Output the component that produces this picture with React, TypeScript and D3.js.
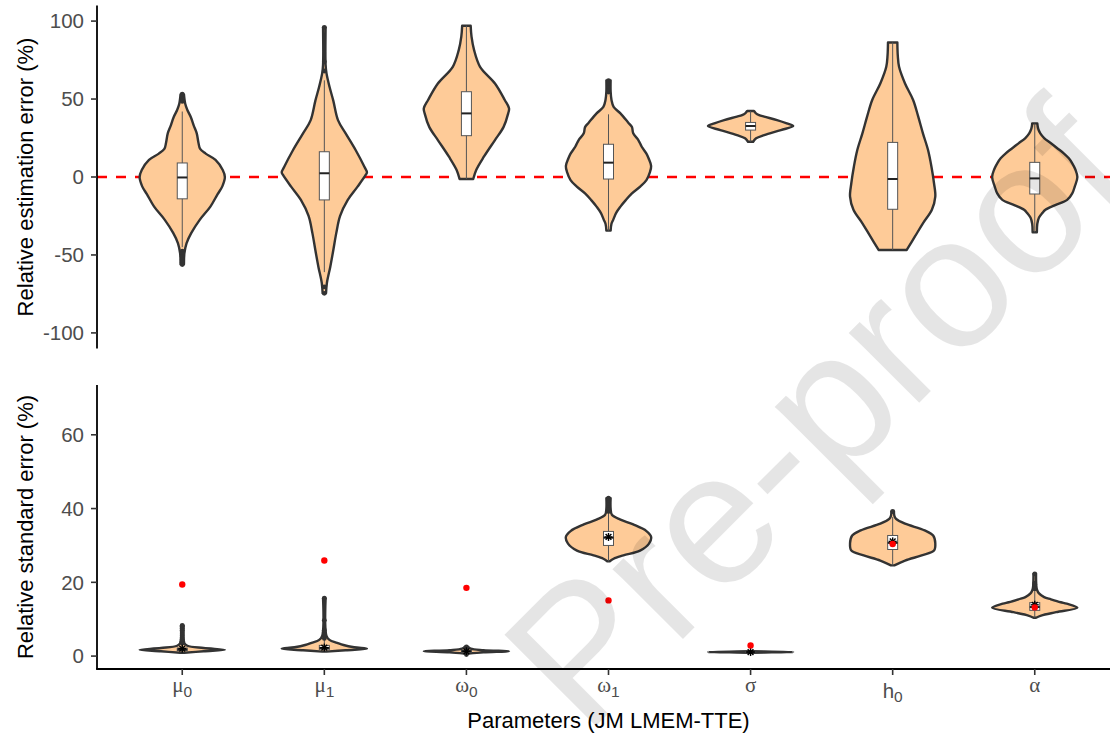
import React from "react";
import * as d3 from "d3";

// ---------- data ----------
const params = ["mu0", "mu1", "omega0", "omega1", "sigma", "h0", "alpha"];
const tickBase = ["μ", "μ", "ω", "ω", "σ", "h", "α"];
const tickSub = ["0", "1", "0", "1", "", "0", ""];

const topTicks = [-100, -50, 0, 50, 100];
const bottomTicks = [0, 20, 40, 60];

// violin profiles: [value, relative half-width] (relative estimation error)
const reMu0: [number, number][] = [[-56, .04], [-49, .05], [-42.5, .1], [-36, .21], [-27.5, .41], [-19, .66], [-11, .83], [-6, .94], [0, 1], [4.5, .95], [11, .78], [15, .55], [18, .42], [22, .38], [28, .34], [33, .27], [38.5, .2], [43, .12], [47, .07], [53, .04]];
const reMu1: [number, number][] = [[-74.6, .04], [-68, .06], [-57.5, .14], [-47, .21], [-36, .28], [-25, .37], [-14.7, .55], [-6.2, .78], [1.3, .97], [3, 1], [6.6, .94], [17, .74], [28, .5], [36.5, .32], [49, .21], [58, .12], [66.6, .05], [72, .03], [96, .03]];
const reOmega0: [number, number][] = [[-1.3, .16], [4.5, .23], [13, .41], [23.7, .67], [32, .87], [40.8, .98], [44, 1], [49.4, .9], [60, .67], [70.7, .32], [81.4, .18], [90, .12], [97, .1]];
const reOmega1: [number, number][] = [[-34.4, .05], [-30, .07], [-27.5, .11], [-23, .18], [-19, .28], [-15, .4], [-10.5, .55], [-6, .75], [-2, .89], [3, .97], [7, 1], [12, .94], [15, .89], [19.4, .78], [23.7, .7], [28, .58], [32, .55], [35, .46], [40.8, .28], [45, .12], [49.4, .07], [55, .05], [62, .05]];
const reSigma: [number, number][] = [[22.6, .06], [24.8, .13], [26.9, .32], [30.1, .71], [32.7, 1], [34.4, .85], [36.5, .62], [38.7, .32], [39.7, .2], [41, .12], [42.3, .08]];
const reH0: [number, number][] = [[-46.8, .33], [-38.3, .52], [-29.7, .71], [-21, .92], [-12.6, 1], [-4, .97], [6.6, .91], [17.3, .83], [28, .71], [38.7, .6], [49.4, .48], [60, .29], [70.7, .15], [78, .12], [86.3, .11]];
const reAlpha: [number, number][] = [[-35.4, .05], [-30, .06], [-26, .1], [-23, .18], [-21, .25], [-18, .48], [-14.7, .76], [-10.5, .88], [-6, .94], [0, 1], [5, .95], [8.8, .88], [12, .8], [15.2, .68], [18, .55], [21.6, .38], [25, .22], [28, .13], [31, .08], [34.4, .06]];

// box stats: [whiskerLow, q1, median, q3, whiskerHigh]
const reBoxes: number[][] = [
  [-45, -14, -0.3, 9, 42],
  [-61, -14.7, 2.4, 16.2, 62],
  [-1.3, 26.5, 40.8, 54.7, 97],
  [-34.4, -1.3, 9.2, 21, 40.2],
  [22.6, 30.1, 32.7, 35, 42.3],
  [-46.8, -20.7, -1.3, 22.2, 86.3],
  [-35.4, -10.9, -0.9, 9.4, 34.4],
];
const reOutliers: number[][] = [
  [48.5, 50, 51, 52, 53.2, -47.5, -49, -51, -53, -55, -56.2],
  [96, 74, 68, -70.5, -74.6],
  [],
  [54.5, 56, 58, 60, 61.8],
  [],
  [],
  [],
];

// relative standard error
const rseMu0: [number, number][] = [[0.9, .05], [1.3, .5], [1.7, 1], [2.2, .5], [2.8, .12], [3.5, .05], [8.3, .03]];
const rseMu1: [number, number][] = [[1.2, .05], [1.6, .5], [2.0, 1], [2.4, .7], [3.0, .45], [3.6, .3], [4.4, .12], [5.5, .05], [15.7, .03]];
const rseOmega0: [number, number][] = [[0.7, .05], [1.0, .4], [1.3, 1], [1.6, .4], [2.0, .1], [2.5, .04]];
const rseOmega1: [number, number][] = [[25.7, .03], [26.4, .12], [27.3, .35], [28.6, .74], [30.5, .95], [32.3, 1], [33.9, .89], [35.7, .58], [37, .28], [38.3, .08], [40, .05], [42.8, .05]];
const rseSigma: [number, number][] = [[0.9, .05], [1.0, .5], [1.1, 1], [1.2, .5], [1.35, .05]];
const rseH0: [number, number][] = [[24.6, .04], [25.9, .29], [27.3, .68], [28.6, .97], [30.6, 1], [32.7, .95], [34.1, .75], [35.9, .29], [37.2, .08], [38, .04], [39.2, .03]];
const rseAlpha: [number, number][] = [[10.4, .03], [11, .15], [11.9, .5], [13.1, 1], [14.2, .75], [14.6, .61], [15.4, .38], [16, .22], [17, .1], [17.8, .06], [18.7, .04], [22.3, .03]];

const rseBoxes: number[][] = [
  [0.9, 1.5, 1.8, 2.2, 3.2],
  [1.2, 1.7, 2.2, 2.9, 4.5],
  [0.7, 1.1, 1.3, 1.5, 2.0],
  [25.7, 30, 32.1, 33.8, 38.6],
  [0.9, 1.0, 1.1, 1.2, 1.35],
  [24.6, 28.9, 30.7, 32.7, 37.7],
  [10.4, 12.4, 13.3, 14.5, 17.6],
];
const rseOutliers: number[][] = [
  [3.5, 4, 4.5, 5, 5.5, 6, 6.5, 7, 7.5, 8, 8.3],
  [4.8, 5.5, 6.3, 7, 9.7, 15.7],
  [0.4, 2.2, 2.5],
  [39.2, 40, 40.8, 41.5, 42.2, 42.8],
  [],
  [39.2],
  [18.2, 18.8, 19.4, 19.8, 22.3],
];
const rseMean = [2.0, 2.3, 1.3, 32.3, 1.1, 31.1, 13.9];
const rseRed = [19.4, 25.9, 18.5, 15.1, 2.9, 30.4, 13.2];

const reProfiles = [reMu0, reMu1, reOmega0, reOmega1, reSigma, reH0, reAlpha];
const rseProfiles = [rseMu0, rseMu1, rseOmega0, rseOmega1, rseSigma, rseH0, rseAlpha];

// ---------- layout ----------
const W = 1110, H = 737;
const x = d3.scalePoint<string>().domain(params).range([97, 1120]).padding(0.6);
const step = x.step();
const halfW = step * 0.3;
const boxHalf = 5;
const yTop = d3.scaleLinear().domain([-110, 110]).range([348.5, 5.5]);
const yBot = d3.scaleLinear().domain([-3.5, 73.5]).range([669, 385]);

const FONT = "'Liberation Sans', Arial, sans-serif";
const FILL = "#FECB98";
const STROKE = "#333333";

function violinPath(profile: [number, number][], cx: number, y: d3.ScaleLinear<number, number>) {
  const area = d3.area<[number, number]>()
    .x0(d => cx - d[1] * halfW)
    .x1(d => cx + d[1] * halfW)
    .y(d => y(d[0]))
    .curve(d3.curveCatmullRom.alpha(0.5));
  return area(profile) || "";
}

function Asterisk({ cx, cy }: { cx: number; cy: number }) {
  const r = 4;
  const d = r * 0.72;
  return (
    <g stroke="#000" strokeWidth={1.4}>
      <line x1={cx - r} y1={cy} x2={cx + r} y2={cy} />
      <line x1={cx} y1={cy - r} x2={cx} y2={cy + r} />
      <line x1={cx - d} y1={cy - d} x2={cx + d} y2={cy + d} />
      <line x1={cx - d} y1={cy + d} x2={cx + d} y2={cy - d} />
    </g>
  );
}

function Panel({ profiles, boxes, outliers, y }: { profiles: [number, number][][]; boxes: number[][]; outliers: number[][]; y: d3.ScaleLinear<number, number> }) {
  return (
    <g>
      {params.map((p, i) => {
        const cx = x(p)!;
        const [wl, q1, med, q3, wh] = boxes[i];
        return (
          <g key={p}>
            <path d={violinPath(profiles[i], cx, y)} fill={FILL} stroke={STROKE} strokeWidth={2.4} strokeLinejoin="round" />
            <line x1={cx} x2={cx} y1={y(wl)} y2={y(wh)} stroke="#555" strokeWidth={1} />
            <rect x={cx - boxHalf} width={boxHalf * 2} y={y(q3)} height={Math.max(0.5, y(q1) - y(q3))} fill="#fff" stroke="#555" strokeWidth={1} />
            <line x1={cx - boxHalf} x2={cx + boxHalf} y1={y(med)} y2={y(med)} stroke="#222" strokeWidth={2} />
            {outliers[i].map((v, j) => (
              <circle key={j} cx={cx} cy={y(v)} r={2.4} fill="#333" />
            ))}
          </g>
        );
      })}
    </g>
  );
}

export default function App() {
  return (
    <svg width={W} height={H} style={{ position: "absolute", left: 0, top: 0, background: "#fff" }} fontFamily={FONT}>
      <rect width={W} height={H} fill="#fff" />
      {/* top panel */}
      <line x1={97} x2={1110} y1={yTop(0)} y2={yTop(0)} stroke="#FF0000" strokeWidth={2.4} strokeDasharray="10,9" />
      <Panel profiles={reProfiles} boxes={reBoxes} outliers={reOutliers} y={yTop} />
      <line x1={97} x2={97} y1={yTop.range()[1]} y2={yTop.range()[0]} stroke="#000" strokeWidth={1.8} />
      {topTicks.map(t => (
        <g key={t}>
          <line x1={91} x2={97} y1={yTop(t)} y2={yTop(t)} stroke="#333" strokeWidth={1.6} />
          <text x={84} y={yTop(t)} dy="0.36em" textAnchor="end" fontSize={20.5} fill="#4D4D4D">{t}</text>
        </g>
      ))}
      <text transform={`translate(32.5,${(yTop.range()[0] + yTop.range()[1]) / 2}) rotate(-90)`} textAnchor="middle" fontSize={22} fill="#000">Relative estimation error (%)</text>

      {/* bottom panel */}
      <Panel profiles={rseProfiles} boxes={rseBoxes} outliers={rseOutliers} y={yBot} />
      {params.map((p, i) => (
        <g key={p}>
          <Asterisk cx={x(p)!} cy={yBot(rseMean[i])} />
          <circle cx={x(p)!} cy={yBot(rseRed[i])} r={3.2} fill="#FF0000" />
        </g>
      ))}
      <line x1={97} x2={97} y1={385} y2={669} stroke="#000" strokeWidth={1.8} />
      <line x1={96.1} x2={1110} y1={669} y2={669} stroke="#000" strokeWidth={1.8} />
      {bottomTicks.map(t => (
        <g key={t}>
          <line x1={91} x2={97} y1={yBot(t)} y2={yBot(t)} stroke="#333" strokeWidth={1.6} />
          <text x={84} y={yBot(t)} dy="0.36em" textAnchor="end" fontSize={20.5} fill="#4D4D4D">{t}</text>
        </g>
      ))}
      {params.map((p, i) => {
        const cx = x(p)!;
        const isLatin = tickBase[i] === "h";
        const baseY = isLatin ? 697.5 : 692;
        return (
          <g key={p}>
            <line x1={cx} x2={cx} y1={669} y2={675} stroke="#333" strokeWidth={1.6} />
            <text x={cx} y={baseY} textAnchor="middle" fill="#4D4D4D">
              <tspan fontSize={isLatin ? 20.5 : 21} fontFamily={isLatin ? FONT : "'Liberation Serif', 'Times New Roman', serif"}>{tickBase[i]}</tspan>
              {tickSub[i] && <tspan fontSize={15.5} dy={4.5}>{tickSub[i]}</tspan>}
            </text>
          </g>
        );
      })}
      <text transform={`translate(32.5,527) rotate(-90)`} textAnchor="middle" fontSize={22} fill="#000">Relative standard error (%)</text>
      <text x={608.5} y={728} textAnchor="middle" fontSize={22} fill="#000">Parameters (JM LMEM-TTE)</text>

      {/* watermark */}
      <text transform="translate(585,737) rotate(-45)" fontSize={188} fill="#000" fillOpacity={0.1} fontFamily={FONT}>Pre-proof</text>
    </svg>
  );
}
